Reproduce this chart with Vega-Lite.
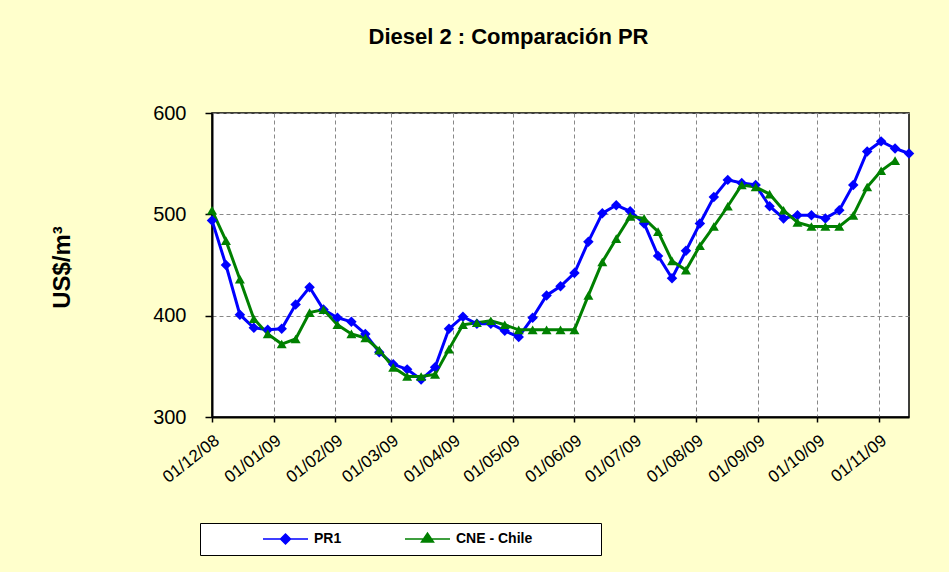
{
  "$schema": "https://vega.github.io/schema/vega-lite/v6.json",
  "width": 697,
  "height": 304,
  "autosize": {"type": "none"},
  "padding": {"left": 212, "top": 113, "right": 40, "bottom": 155},
  "background": "#FFFFCC",
  "title": {
    "text": "Diesel 2 : Comparación PR",
    "font": "Liberation Sans",
    "fontSize": 22,
    "fontWeight": "bold",
    "color": "#000000",
    "anchor": "middle",
    "frame": "group",
    "dx": -52,
    "offset": 54
  },
  "config": {
    "view": {"fill": "#FFFFFF", "stroke": "#000000", "strokeWidth": 1.5},
    "font": "Liberation Sans",
    "legend": {
      "orient": "none",
      "direction": "horizontal",
      "legendX": -12,
      "legendY": 410,
      "padding": 8,
      "fillColor": "#FFFFFF",
      "strokeColor": "#000000",
      "clipHeight": 16,
      "symbolSize": 10000,
      "symbolStrokeWidth": 1.5,
      "symbolOpacity": 1,
      "labelOffset": 4,
      "columnPadding": 8,
      "labelFontSize": 14,
      "labelFontWeight": "bold",
      "labelColor": "#000000"
    }
  },
  "datasets": {
    "prices": [
      {"date": "2008-12-01T00:00:00", "series": "PR1", "value": 494},
      {"date": "2008-12-08T00:00:00", "series": "PR1", "value": 450},
      {"date": "2008-12-15T00:00:00", "series": "PR1", "value": 401},
      {"date": "2008-12-22T00:00:00", "series": "PR1", "value": 388},
      {"date": "2008-12-29T00:00:00", "series": "PR1", "value": 386},
      {"date": "2009-01-05T00:00:00", "series": "PR1", "value": 387},
      {"date": "2009-01-12T00:00:00", "series": "PR1", "value": 411},
      {"date": "2009-01-19T00:00:00", "series": "PR1", "value": 428},
      {"date": "2009-01-26T00:00:00", "series": "PR1", "value": 406},
      {"date": "2009-02-02T00:00:00", "series": "PR1", "value": 398},
      {"date": "2009-02-09T00:00:00", "series": "PR1", "value": 394},
      {"date": "2009-02-16T00:00:00", "series": "PR1", "value": 382},
      {"date": "2009-02-23T00:00:00", "series": "PR1", "value": 364},
      {"date": "2009-03-02T00:00:00", "series": "PR1", "value": 352},
      {"date": "2009-03-09T00:00:00", "series": "PR1", "value": 347},
      {"date": "2009-03-16T00:00:00", "series": "PR1", "value": 337},
      {"date": "2009-03-23T00:00:00", "series": "PR1", "value": 349},
      {"date": "2009-03-30T00:00:00", "series": "PR1", "value": 387},
      {"date": "2009-04-06T00:00:00", "series": "PR1", "value": 399},
      {"date": "2009-04-13T00:00:00", "series": "PR1", "value": 392},
      {"date": "2009-04-20T00:00:00", "series": "PR1", "value": 392},
      {"date": "2009-04-27T00:00:00", "series": "PR1", "value": 385},
      {"date": "2009-05-04T00:00:00", "series": "PR1", "value": 379},
      {"date": "2009-05-11T00:00:00", "series": "PR1", "value": 398},
      {"date": "2009-05-18T00:00:00", "series": "PR1", "value": 420},
      {"date": "2009-05-25T00:00:00", "series": "PR1", "value": 429},
      {"date": "2009-06-01T00:00:00", "series": "PR1", "value": 442},
      {"date": "2009-06-08T00:00:00", "series": "PR1", "value": 473},
      {"date": "2009-06-15T00:00:00", "series": "PR1", "value": 501},
      {"date": "2009-06-22T00:00:00", "series": "PR1", "value": 509},
      {"date": "2009-06-29T00:00:00", "series": "PR1", "value": 503},
      {"date": "2009-07-06T00:00:00", "series": "PR1", "value": 491},
      {"date": "2009-07-13T00:00:00", "series": "PR1", "value": 459},
      {"date": "2009-07-20T00:00:00", "series": "PR1", "value": 437},
      {"date": "2009-07-27T00:00:00", "series": "PR1", "value": 464},
      {"date": "2009-08-03T00:00:00", "series": "PR1", "value": 491},
      {"date": "2009-08-10T00:00:00", "series": "PR1", "value": 517},
      {"date": "2009-08-17T00:00:00", "series": "PR1", "value": 534},
      {"date": "2009-08-24T00:00:00", "series": "PR1", "value": 531},
      {"date": "2009-08-31T00:00:00", "series": "PR1", "value": 529},
      {"date": "2009-09-07T00:00:00", "series": "PR1", "value": 508},
      {"date": "2009-09-14T00:00:00", "series": "PR1", "value": 496},
      {"date": "2009-09-21T00:00:00", "series": "PR1", "value": 499},
      {"date": "2009-09-28T00:00:00", "series": "PR1", "value": 499},
      {"date": "2009-10-05T00:00:00", "series": "PR1", "value": 496},
      {"date": "2009-10-12T00:00:00", "series": "PR1", "value": 504},
      {"date": "2009-10-19T00:00:00", "series": "PR1", "value": 529},
      {"date": "2009-10-26T00:00:00", "series": "PR1", "value": 562},
      {"date": "2009-11-02T00:00:00", "series": "PR1", "value": 572},
      {"date": "2009-11-09T00:00:00", "series": "PR1", "value": 565},
      {"date": "2009-11-16T00:00:00", "series": "PR1", "value": 560},
      {"date": "2008-12-01T00:00:00", "series": "CNE - Chile", "value": 504},
      {"date": "2008-12-08T00:00:00", "series": "CNE - Chile", "value": 474},
      {"date": "2008-12-15T00:00:00", "series": "CNE - Chile", "value": 436},
      {"date": "2008-12-22T00:00:00", "series": "CNE - Chile", "value": 397},
      {"date": "2008-12-29T00:00:00", "series": "CNE - Chile", "value": 382},
      {"date": "2009-01-05T00:00:00", "series": "CNE - Chile", "value": 372},
      {"date": "2009-01-12T00:00:00", "series": "CNE - Chile", "value": 377},
      {"date": "2009-01-19T00:00:00", "series": "CNE - Chile", "value": 403},
      {"date": "2009-01-26T00:00:00", "series": "CNE - Chile", "value": 406},
      {"date": "2009-02-02T00:00:00", "series": "CNE - Chile", "value": 391},
      {"date": "2009-02-09T00:00:00", "series": "CNE - Chile", "value": 382},
      {"date": "2009-02-16T00:00:00", "series": "CNE - Chile", "value": 378},
      {"date": "2009-02-23T00:00:00", "series": "CNE - Chile", "value": 366},
      {"date": "2009-03-02T00:00:00", "series": "CNE - Chile", "value": 349},
      {"date": "2009-03-09T00:00:00", "series": "CNE - Chile", "value": 340},
      {"date": "2009-03-16T00:00:00", "series": "CNE - Chile", "value": 340},
      {"date": "2009-03-23T00:00:00", "series": "CNE - Chile", "value": 342},
      {"date": "2009-03-30T00:00:00", "series": "CNE - Chile", "value": 367},
      {"date": "2009-04-06T00:00:00", "series": "CNE - Chile", "value": 391},
      {"date": "2009-04-13T00:00:00", "series": "CNE - Chile", "value": 393},
      {"date": "2009-04-20T00:00:00", "series": "CNE - Chile", "value": 395},
      {"date": "2009-04-27T00:00:00", "series": "CNE - Chile", "value": 391},
      {"date": "2009-05-04T00:00:00", "series": "CNE - Chile", "value": 386},
      {"date": "2009-05-11T00:00:00", "series": "CNE - Chile", "value": 386},
      {"date": "2009-05-18T00:00:00", "series": "CNE - Chile", "value": 386},
      {"date": "2009-05-25T00:00:00", "series": "CNE - Chile", "value": 386},
      {"date": "2009-06-01T00:00:00", "series": "CNE - Chile", "value": 386},
      {"date": "2009-06-08T00:00:00", "series": "CNE - Chile", "value": 420},
      {"date": "2009-06-15T00:00:00", "series": "CNE - Chile", "value": 453},
      {"date": "2009-06-22T00:00:00", "series": "CNE - Chile", "value": 476},
      {"date": "2009-06-29T00:00:00", "series": "CNE - Chile", "value": 498},
      {"date": "2009-07-06T00:00:00", "series": "CNE - Chile", "value": 496},
      {"date": "2009-07-13T00:00:00", "series": "CNE - Chile", "value": 483},
      {"date": "2009-07-20T00:00:00", "series": "CNE - Chile", "value": 454},
      {"date": "2009-07-27T00:00:00", "series": "CNE - Chile", "value": 445},
      {"date": "2009-08-03T00:00:00", "series": "CNE - Chile", "value": 469},
      {"date": "2009-08-10T00:00:00", "series": "CNE - Chile", "value": 488},
      {"date": "2009-08-17T00:00:00", "series": "CNE - Chile", "value": 508},
      {"date": "2009-08-24T00:00:00", "series": "CNE - Chile", "value": 529},
      {"date": "2009-08-31T00:00:00", "series": "CNE - Chile", "value": 527},
      {"date": "2009-09-07T00:00:00", "series": "CNE - Chile", "value": 520},
      {"date": "2009-09-14T00:00:00", "series": "CNE - Chile", "value": 504},
      {"date": "2009-09-21T00:00:00", "series": "CNE - Chile", "value": 492},
      {"date": "2009-09-28T00:00:00", "series": "CNE - Chile", "value": 488},
      {"date": "2009-10-05T00:00:00", "series": "CNE - Chile", "value": 488},
      {"date": "2009-10-12T00:00:00", "series": "CNE - Chile", "value": 488},
      {"date": "2009-10-19T00:00:00", "series": "CNE - Chile", "value": 499},
      {"date": "2009-10-26T00:00:00", "series": "CNE - Chile", "value": 527},
      {"date": "2009-11-02T00:00:00", "series": "CNE - Chile", "value": 543},
      {"date": "2009-11-09T00:00:00", "series": "CNE - Chile", "value": 553}
    ]
  },
  "data": {"name": "prices"},
  "encoding": {
    "x": {
      "field": "date",
      "type": "temporal",
      "scale": {
        "domain": [
          {"year": 2008, "month": 12, "date": 1},
          {"year": 2009, "month": 11, "date": 16}
        ],
        "nice": false
      },
      "axis": {
        "title": null,
        "values": [
          {"year": 2008, "month": 12, "date": 1},
          {"year": 2009, "month": 1, "date": 1},
          {"year": 2009, "month": 2, "date": 1},
          {"year": 2009, "month": 3, "date": 1},
          {"year": 2009, "month": 4, "date": 1},
          {"year": 2009, "month": 5, "date": 1},
          {"year": 2009, "month": 6, "date": 1},
          {"year": 2009, "month": 7, "date": 1},
          {"year": 2009, "month": 8, "date": 1},
          {"year": 2009, "month": 9, "date": 1},
          {"year": 2009, "month": 10, "date": 1},
          {"year": 2009, "month": 11, "date": 1}
        ],
        "format": "%d/%m/%y",
        "labelAngle": -38,
        "labelAlign": "right",
        "labelBaseline": "top",
        "labelFontSize": 17,
        "labelColor": "#000000",
        "labelPadding": 10,
        "labelOverlap": false,
        "labelFlush": false,
        "tickSize": 5,
        "tickColor": "#000000",
        "tickWidth": 1.5,
        "domainColor": "#000000",
        "domainWidth": 2,
        "grid": true,
        "gridColor": "#888888",
        "gridDash": [4, 3],
        "gridWidth": 1
      }
    },
    "y": {
      "field": "value",
      "type": "quantitative",
      "scale": {"domain": [300, 600], "nice": false, "zero": false},
      "axis": {
        "title": "US$/m³",
        "titleFontSize": 24,
        "titleFontWeight": "bold",
        "titleColor": "#000000",
        "titleX": -138,
        "titleY": 154,
        "values": [300, 400, 500, 600],
        "labelFontSize": 20,
        "labelColor": "#000000",
        "labelPadding": 19,
        "tickSize": 7,
        "tickColor": "#000000",
        "tickWidth": 1.5,
        "domainColor": "#000000",
        "domainWidth": 2,
        "grid": true,
        "gridColor": "#888888",
        "gridDash": [4, 3],
        "gridWidth": 1
      }
    }
  },
  "layer": [
    {
      "transform": [{"filter": "false"}],
      "mark": {"type": "point", "filled": true, "opacity": 1},
      "encoding": {
        "color": {
          "field": "series",
          "type": "nominal",
          "scale": {"domain": ["PR1", "CNE - Chile"], "range": ["#0000FF", "#008000"]},
          "legend": {
            "title": null,
            "labelExpr": "datum.value === 'CNE - Chile' ? datum.label + '\u2800\u2800\u2800\u2800\u2800\u2800' : datum.label"
          }
        },
        "stroke": {
          "field": "series",
          "type": "nominal",
          "scale": {"domain": ["PR1", "CNE - Chile"], "range": ["#0000FF", "#008000"]},
          "legend": {
            "title": null,
            "labelExpr": "datum.value === 'CNE - Chile' ? datum.label + '\u2800\u2800\u2800\u2800\u2800\u2800' : datum.label"
          }
        },
        "shape": {
          "field": "series",
          "type": "nominal",
          "scale": {
            "domain": ["PR1", "CNE - Chile"],
            "range": [
              "M0.08,0H0.98M0.43,0L0.53,-0.1L0.63,0L0.53,0.1Z",
              "M0.08,0H0.98M0.41,0.06L0.53,-0.12L0.65,0.06Z"
            ]
          },
          "legend": {
            "title": null,
            "labelExpr": "datum.value === 'CNE - Chile' ? datum.label + '\u2800\u2800\u2800\u2800\u2800\u2800' : datum.label"
          }
        }
      }
    },
    {
      "mark": {"type": "line", "strokeWidth": 3},
      "encoding": {
        "color": {"field": "series", "type": "nominal"}
      }
    },
    {
      "transform": [{"filter": "datum.series === 'PR1'"}],
      "mark": {"type": "point", "filled": true, "size": 110, "opacity": 1, "shape": "diamond"},
      "encoding": {
        "color": {"field": "series", "type": "nominal"}
      }
    },
    {
      "transform": [{"filter": "datum.series === 'CNE - Chile'"}],
      "mark": {"type": "point", "filled": true, "size": 100, "opacity": 1, "shape": "triangle-up"},
      "encoding": {
        "color": {"field": "series", "type": "nominal"}
      }
    }
  ]
}
